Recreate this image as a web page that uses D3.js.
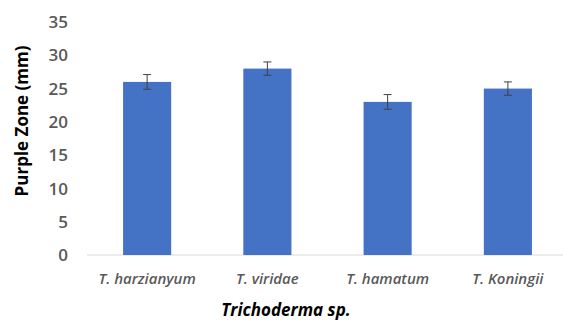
<!DOCTYPE html>
<html lang="en">
<head>
    <meta charset="UTF-8">
    <title>Purple Zone by Trichoderma sp.</title>
    <script src="https://cdn.jsdelivr.net/npm/d3@7"></script>
</head>
<style>
    body { margin: 0; background: #fff; }
    svg { display: block; }
    .tick-label { font-family: "Open Sans", sans-serif; font-weight: 600; fill: #595959; }
    .title { font-family: "Open Sans", sans-serif; font-weight: 700; fill: #000; }
</style>
<body>
    <div id="graphDiv"></div>
    <script>
        // chart values
        const species = ["T. harzianyum", "T. viridae", "T. hamatum", "T. Koningii"];
        const purpleZone = [26, 28, 23, 25];
        const errors = [1.1, 1, 1.1, 1];
        const yTicks = [0, 5, 10, 15, 20, 25, 30, 35];

        const width = 563;
        const height = 322;
        const margin = {top: 22, right: 0, bottom: 67, left: 87};

        const svg = d3.select("#graphDiv").append("svg")
            .attr("width", width)
            .attr("height", height);

        const x = d3.scaleBand()
            .domain(species)
            .range([margin.left, 568])
            .paddingInner(0.6)
            .paddingOuter(0.3);

        const y = d3.scaleLinear()
            .domain([0, 35])
            .range([height - margin.bottom, margin.top]);

        // baseline
        svg.append("line")
            .attr("x1", margin.left)
            .attr("x2", width)
            .attr("y1", y(0))
            .attr("y2", y(0))
            .attr("stroke", "#d9d9d9")
            .attr("stroke-width", 1);

        // y tick labels
        svg.append("g")
            .selectAll("text")
            .data(yTicks)
            .join("text")
            .attr("class", "tick-label")
            .attr("x", 68)
            .attr("y", d => y(d))
            .attr("dy", "0.36em")
            .attr("text-anchor", "end")
            .style("font-size", "17px")
            .text(d => d);

        // bars
        svg.append("g")
            .selectAll("rect")
            .data(purpleZone)
            .join("rect")
            .attr("x", (d, i) => x(species[i]))
            .attr("y", d => y(d))
            .attr("width", x.bandwidth())
            .attr("height", d => y(0) - y(d))
            .attr("fill", "#4472C4");

        // error bars
        const err = svg.append("g")
            .attr("stroke", "#404040")
            .attr("stroke-width", 1);

        purpleZone.forEach((v, i) => {
            const cx = x(species[i]) + x.bandwidth() / 2;
            err.append("line")
                .attr("x1", cx).attr("x2", cx)
                .attr("y1", y(v + errors[i])).attr("y2", y(v - errors[i]));
            [v + errors[i], v - errors[i]].forEach(e => {
                err.append("line")
                    .attr("x1", cx - 4).attr("x2", cx + 4)
                    .attr("y1", y(e)).attr("y2", y(e));
            });
        });

        // x tick labels
        svg.append("g")
            .selectAll("text")
            .data(species)
            .join("text")
            .attr("class", "tick-label")
            .attr("x", d => x(d) + x.bandwidth() / 2)
            .attr("y", 279)
            .attr("dy", "0.36em")
            .attr("text-anchor", "middle")
            .style("font-size", "15px")
            .style("font-style", "italic")
            .text(d => d);

        // axis titles
        svg.append("text")
            .attr("class", "title")
            .attr("text-anchor", "middle")
            .attr("transform", "translate(22,121)rotate(-90)")
            .attr("dy", "0.36em")
            .style("font-size", "17px")
            .text("Purple Zone (mm)");

        svg.append("text")
            .attr("class", "title")
            .attr("x", 286)
            .attr("y", 310)
            .attr("dy", "0.36em")
            .attr("text-anchor", "middle")
            .style("font-size", "17px")
            .style("font-style", "italic")
            .text("Trichoderma sp.");
    </script>
</body>
</html>
